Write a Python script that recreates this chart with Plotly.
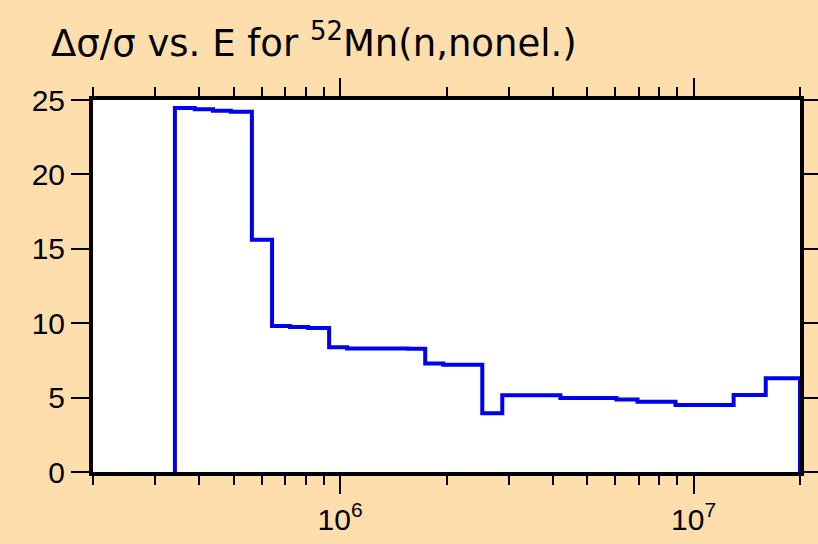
import math
import plotly.graph_objects as go

# Group boundaries (eV) and relative uncertainty (%) per group
edges = [3.41e5, 3.88e5, 4.37e5, 4.91e5, 5.63e5, 6.42e5, 7.22e5, 8.12e5,
         9.31e5, 1.047e6, 1.558e6, 1.741e6, 1.958e6, 2.525e6, 2.876e6,
         4.20e6, 6.05e6, 6.94e6, 8.89e6, 1.298e7, 1.60e7, 2.0e7]
values = [24.46, 24.37, 24.28, 24.21, 15.6, 9.81, 9.75, 9.68, 8.38, 8.30,
          8.28, 7.30, 7.21, 3.94, 5.15, 4.98, 4.87, 4.72, 4.50, 5.17, 6.30]

x_major = [1e6, 1e7]
x_major_text = ["10<sup>6</sup>", "10<sup>7</sup>"]
x_minor = [m * 10 ** d for d in (5, 6) for m in range(2, 10)] + [2e7]
y_ticks = [0, 5, 10, 15, 20, 25]

xs = [edges[0]] + edges + [edges[-1]]
ys = [0] + values + [values[-1], 0]

fig = go.Figure()
fig.add_trace(go.Scatter(x=xs, y=ys, mode="lines",
                         line=dict(shape="hv", color="#0000EE", width=4),
                         cliponaxis=False, showlegend=False))

font = "Liberation Sans, Arial, sans-serif"
fig.update_layout(
    width=818, height=544,
    paper_bgcolor="#FFDEAD", plot_bgcolor="white",
    margin=dict(l=93, r=18, t=100, b=72, autoexpand=False),
    font=dict(family=font, size=30, color="black"),
    title=dict(text="Δσ/σ vs. E for <sup>52</sup>Mn(n,nonel.)",
               xref="container", yref="container", x=51 / 818, xanchor="left",
               y=1 - 43 / 544, yanchor="middle", pad=dict(l=0, r=0, t=0, b=0),
               font=dict(family="DejaVu Sans, sans-serif", size=37, color="black")),
    xaxis=dict(type="log", range=[math.log10(2e5), math.log10(2e7)],
               tickvals=x_major, ticktext=x_major_text, automargin=False,
               ticks="outside", ticklen=18, tickwidth=2, tickcolor="black",
               showline=True, linewidth=4, linecolor="black", mirror="allticks",
               showgrid=False, zeroline=False,
               minor=dict(tickvals=x_minor, ticks="outside", ticklen=9,
                          tickwidth=2, tickcolor="black", showgrid=False),
               tickfont=dict(size=30)),
    yaxis=dict(range=[0, 25], tickvals=y_ticks, automargin=False,
               ticks="outside", ticklen=18, tickwidth=2, tickcolor="black",
               showline=True, linewidth=4, linecolor="black", mirror="allticks",
               showgrid=False, zeroline=False, tickfont=dict(size=30)),
)

fig.write_html("out.html", config={"displayModeBar": False},
               post_script="document.body.style.margin='0';")
